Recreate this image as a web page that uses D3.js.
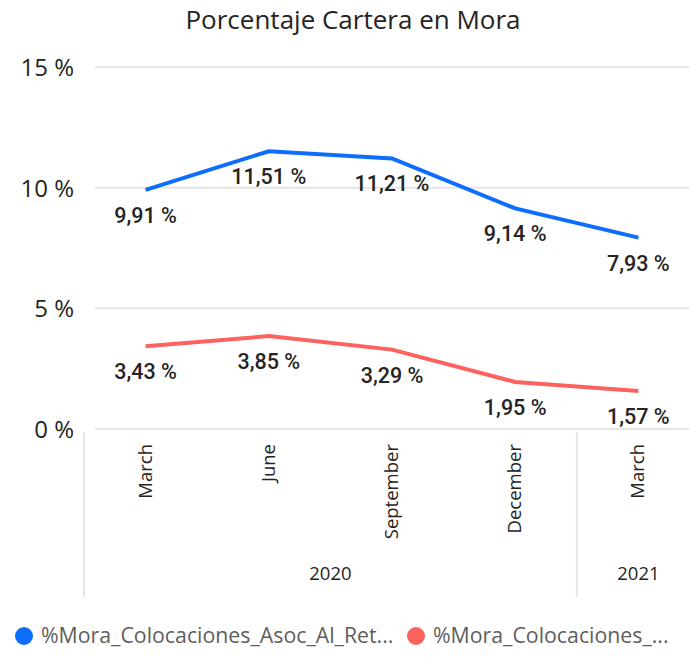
<!DOCTYPE html>
<html>
  <head>
    <meta charset="utf-8">
    <title>Porcentaje Cartera en Mora</title>
    <script src="https://d3js.org/d3.v7.min.js"></script>
    <style>
      body { margin: 0; background: #fff; }
      svg { display: block; }
      .grid line { stroke: #e6e6e6; stroke-width: 2; }
      .ytick { font-family: "Open Sans", sans-serif; font-size: 24px; fill: #252423; }
      .xtick { font-family: "Open Sans", sans-serif; font-size: 18.5px; fill: #252423; }
      .dlabel { font-family: Roboto, sans-serif; font-size: 21.5px; font-weight: 500; fill: #252423; }
      .legend { font-family: "Open Sans", sans-serif; font-size: 21.3px; fill: #605e5c; }
    </style>
  </head>
  <body>
    <svg width="689" height="658"></svg>
    <script>
      var months = ["March", "June", "September", "December", "March"];
      var years = ["2020", "2020", "2020", "2020", "2021"];
      var serieRet = [9.91, 11.51, 11.21, 9.14, 7.93];
      var serieOtra = [3.43, 3.85, 3.29, 1.95, 1.57];
      var yTicks = [0, 5, 10, 15];
      var legendNames = ["%Mora_Colocaciones_Asoc_Al_Ret...", "%Mora_Colocaciones_..."];
      var colors = ["#0d6efd", "#fd625e"];

      var svg = d3.select("svg");
      var idx = d3.range(months.length);

      var xScale = d3.scaleBand().domain(idx).range([84, 700]).padding(0);
      var yScale = d3.scaleLinear().domain([0, 15]).range([429, 67]);
      var cx = i => xScale(i) + xScale.bandwidth() / 2;

      svg.append("text")
        .attr("x", 353).attr("y", 29)
        .attr("text-anchor", "middle")
        .style("font-family", "'Open Sans', sans-serif")
        .style("font-size", "26px")
        .style("fill", "#252423")
        .text("Porcentaje Cartera en Mora");

      // gridlines
      svg.append("g").attr("class", "grid")
        .selectAll("line").data(yTicks).enter()
        .append("line")
          .attr("x1", 95).attr("x2", 689)
          .attr("y1", d => yScale(d)).attr("y2", d => yScale(d));

      svg.selectAll("text.ytick").data(yTicks).enter()
        .append("text").attr("class", "ytick")
          .attr("x", 74).attr("y", d => yScale(d) + 9)
          .attr("text-anchor", "end")
          .text(d => d + " %");

      // category axis
      svg.selectAll("text.xtick").data(idx).enter()
        .append("text").attr("class", "xtick")
          .attr("transform", i => "translate(" + (cx(i) + 6) + ",444) rotate(-90)")
          .attr("text-anchor", "end")
          .text(i => months[i]);

      var yearGroups = d3.groups(idx, i => years[i]);
      var sepX = [84].concat(yearGroups.map(g => xScale(g[1][g[1].length - 1]) + xScale.bandwidth()));
      svg.selectAll("line.sep").data(sepX.slice(0, yearGroups.length)).enter()
        .append("line").attr("class", "sep")
          .attr("x1", d => d).attr("x2", d => d)
          .attr("y1", 432).attr("y2", 597)
          .attr("stroke", "#e6e6e6").attr("stroke-width", 2);

      svg.selectAll("text.year").data(yearGroups).enter()
        .append("text").attr("class", "xtick")
          .attr("x", g => (xScale(g[1][0]) + xScale(g[1][g[1].length - 1]) + xScale.bandwidth()) / 2)
          .attr("y", 580)
          .attr("text-anchor", "middle")
          .text(g => g[0]);

      // lines and labels
      var line = d3.line().x((d, i) => cx(i)).y(d => yScale(d));
      [serieRet, serieOtra].forEach(function (serie, s) {
        svg.append("path")
          .attr("d", line(serie))
          .attr("fill", "none")
          .attr("stroke", colors[s])
          .attr("stroke-width", 4);

        svg.selectAll("text.lab" + s).data(serie).enter()
          .append("text").attr("class", "dlabel")
            .attr("x", (d, i) => cx(i))
            .attr("y", d => yScale(d) + 33)
            .attr("text-anchor", "middle")
            .text(d => d.toFixed(2).replace(".", ",") + " %");
      });

      // legend
      var legX = [24, 416];
      legendNames.forEach(function (name, s) {
        svg.append("circle")
          .attr("cx", legX[s]).attr("cy", 636).attr("r", 9)
          .attr("fill", colors[s]);
        svg.append("text").attr("class", "legend")
          .attr("x", legX[s] + 17).attr("y", 643)
          .text(name);
      });
    </script>
  </body>
</html>
